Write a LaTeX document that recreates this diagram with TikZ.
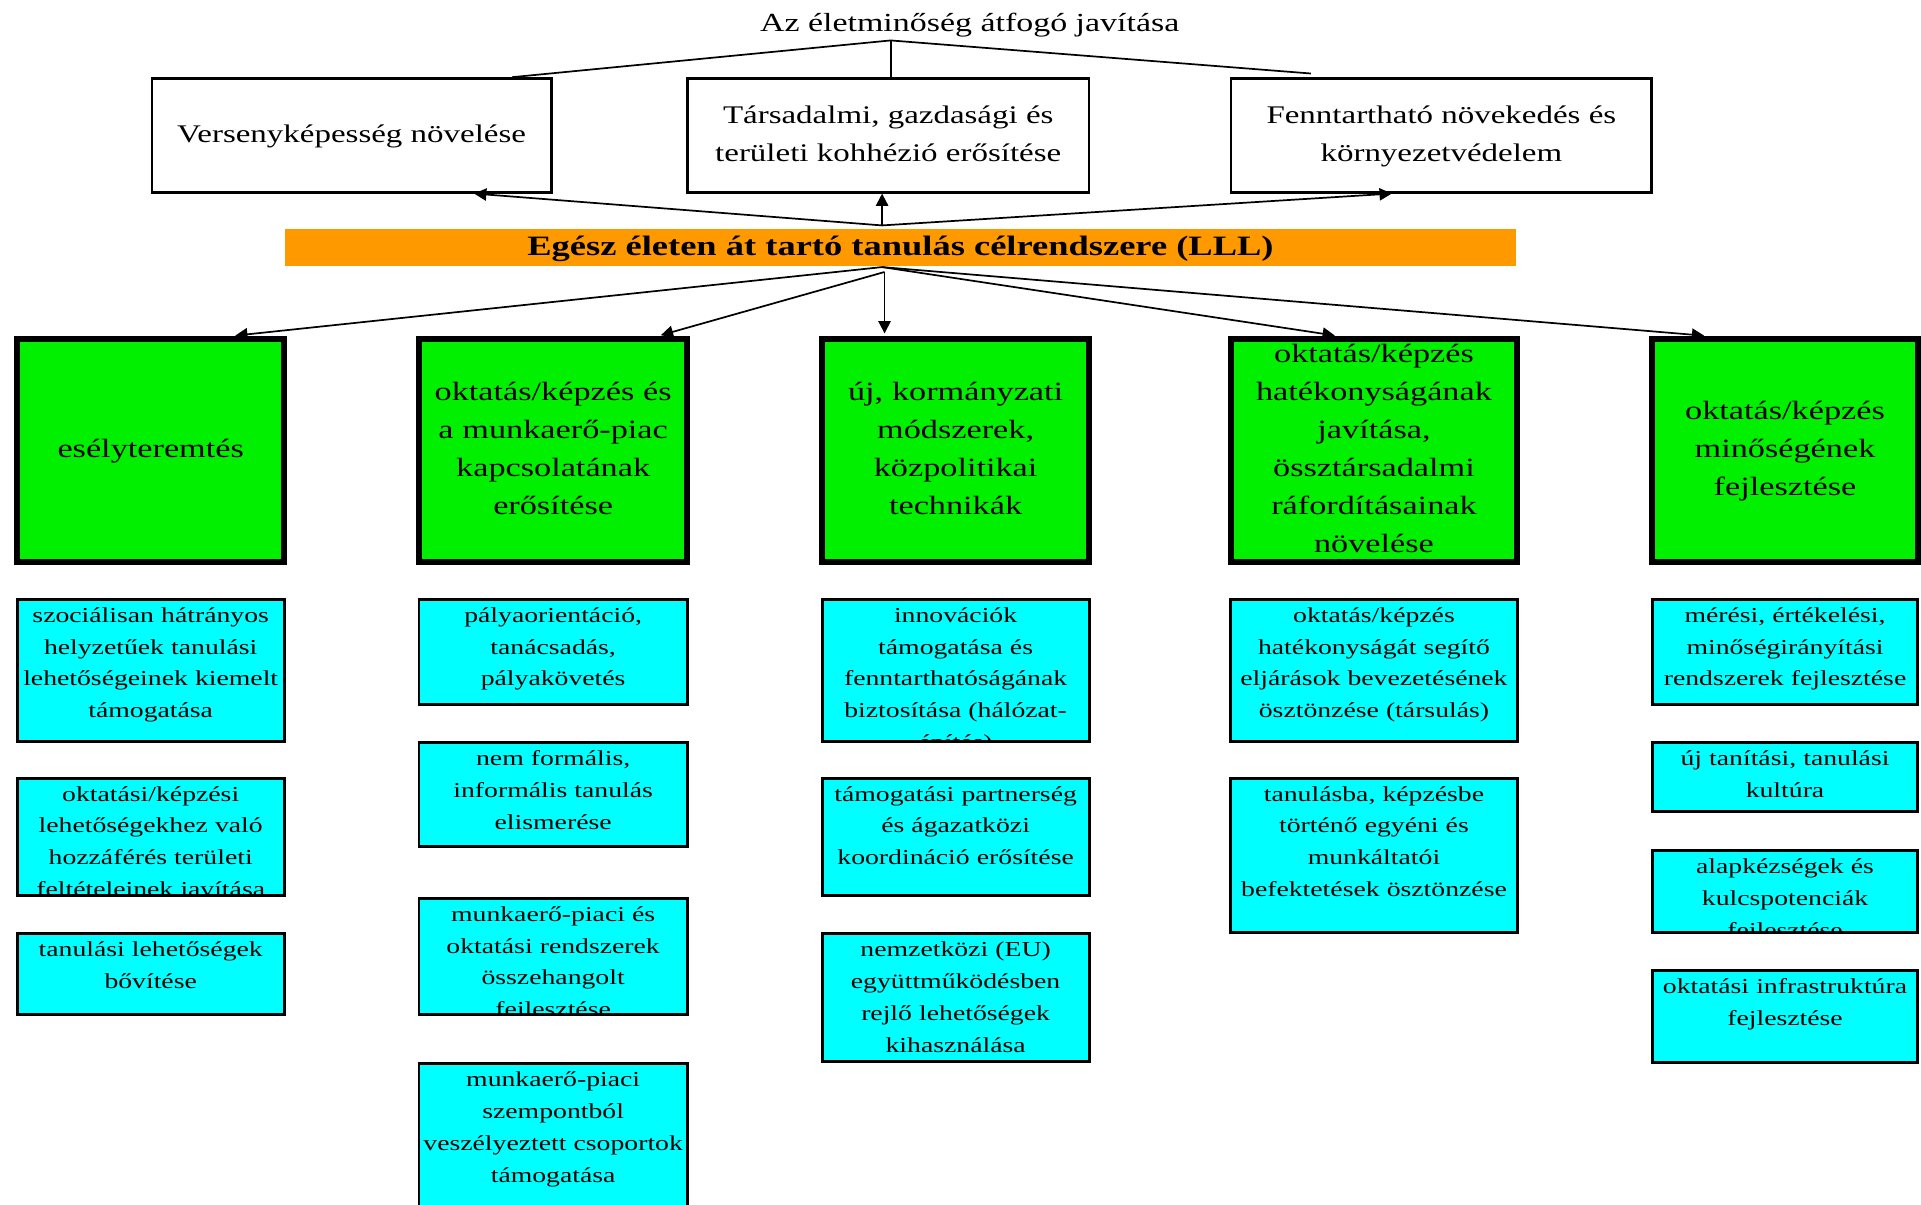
\documentclass[tikz,border=0pt]{standalone}
\usepackage{fontspec}
\setmainfont{Liberation Serif}[FakeStretch=1.3]
\usepackage{tikz}
\usetikzlibrary{arrows.meta, positioning, calc}

\definecolor{lllorange}{HTML}{FF9900}
\definecolor{goalgreen}{HTML}{00F000}
\definecolor{actcyan}{HTML}{00FFFF}

\tikzset{
  aimbox/.style={draw, line width=2pt, fill=white, minimum width=#1, minimum height=93pt,
    inner sep=0pt, align=center, font=\fontsize{20.7}{31}\selectfont},
  goalbox/.style={draw, line width=4.7pt, fill=goalgreen, minimum width=#1, minimum height=182pt, inner sep=0pt},
  goaltext/.style={draw=none, fill=none, anchor=center, inner sep=0pt, minimum width=0pt, minimum height=0pt,
    align=center, text width=260pt, font=\fontsize{21.5}{31}\selectfont},
  actbox/.style={draw, line width=2.4pt, fill=actcyan, minimum width=#1, inner sep=0pt},
  acttext/.style={draw=none, fill=none, anchor=north, inner sep=0pt, minimum width=0pt, minimum height=0pt,
    align=center, text width=250pt, font=\fontsize{17.4}{26}\selectfont},
  link/.style={line width=1.4pt},
  arr/.style={line width=1.4pt, -{Triangle[length=10pt, width=10pt]}},
}

% green goal box, its text is clipped to the box
\newcommand{\goal}[4]{%
  \node[goalbox=#3, path picture={\node[goaltext] (#1t) at (path picture bounding box.center)
      {\rule{0pt}{17pt}#4\rule[-4.5pt]{0pt}{4.5pt}};}] (#1) at (#2,367.5) {};}
% cyan action box: name, x, top, width, height, text
\newcommand{\act}[6]{%
  \node[actbox=#4, minimum height=#5, anchor=north, path picture={\node[acttext] (#1t)
      at ([yshift=-4.5pt]path picture bounding box.north) {\rule{0pt}{13pt}#6};}] (#1) at (#2,#3) {};}

\begin{document}
\begin{tikzpicture}[x=1pt, y=-1pt]
        \useasboundingbox (0,0) rectangle (1568,982.8);

        % overall aim and the three goals
        \node[anchor=base, font=\fontsize{21.3}{26}\selectfont] (cim) at (791.5,26) {Az életminőség átfogó javítása};
        \node[aimbox=326pt] (verseny) at (287,110.5) {\rule{0pt}{16pt}Versenyképesség növelése\rule[-4pt]{0pt}{4pt}};
        \node[aimbox=328pt] (tarsadalmi) at (725,110.5) {\rule{0pt}{16pt}Társadalmi, gazdasági és\\területi kohhézió erősítése\rule[-4pt]{0pt}{4pt}};
        \node[aimbox=343pt] (fenntart) at (1176.5,110.5) {\rule{0pt}{16pt}Fenntartható növekedés és\\környezetvédelem\rule[-4pt]{0pt}{4pt}};

        % LLL bar
        \node[fill=lllorange, minimum width=1004.5pt, minimum height=30pt, inner sep=0pt,
              font=\fontsize{22.9}{26}\selectfont\bfseries] (lll) at (735,202)
              {\rule{0pt}{17.5pt}Egész életen át tartó tanulás célrendszere (LLL)\rule[-3pt]{0pt}{3pt}};

        % green goal boxes
        \goal{g1}{123}{218pt}{esélyteremtés}
        \goal{g2}{451.5}{219pt}{oktatás/képzés és\\a munkaerő-piac\\kapcsolatának\\erősítése}
        \goal{g3}{780}{218pt}{új, kormányzati\\módszerek,\\közpolitikai\\technikák}
        \goal{g4}{1121.5}{234pt}{oktatás/képzés\\hatékonyságának\\javítása,\\össztársadalmi\\ráfordításainak\\növelése}
        \goal{g5}{1457}{217pt}{oktatás/képzés\\minőségének\\fejlesztése}

        % cyan action boxes
        \act{c1a}{123}{488}{218pt}{116pt}{szociálisan hátrányos\\helyzetűek tanulási\\lehetőségeinek kiemelt\\támogatása}
        \act{c1b}{123}{634}{218pt}{96pt}{oktatási/képzési\\lehetőségekhez való\\hozzáférés területi\\feltételeinek javítása}
        \act{c1c}{123}{761}{218pt}{66pt}{tanulási lehetőségek\\bővítése}
        \act{c2a}{451.5}{488}{219pt}{86pt}{pályaorientáció,\\tanácsadás,\\pályakövetés}
        \act{c2b}{451.5}{605}{219pt}{85pt}{nem formális,\\informális tanulás\\elismerése}
        \act{c2c}{451.5}{732}{219pt}{95pt}{munkaerő-piaci és\\oktatási rendszerek\\összehangolt\\fejlesztése}
        \act{c2d}{451.5}{867}{219pt}{140pt}{munkaerő-piaci\\szempontból\\veszélyeztett csoportok\\támogatása}
        \act{c3a}{780}{488}{218pt}{116pt}{innovációk\\támogatása és\\fenntarthatóságának\\biztosítása (hálózat-\\építés)}
        \act{c3b}{780}{634}{218pt}{96pt}{támogatási partnerség\\és ágazatközi\\koordináció erősítése}
        \act{c3c}{780}{761}{218pt}{104pt}{nemzetközi (EU)\\együttműködésben\\rejlő lehetőségek\\kihasználása}
        \act{c4a}{1121.5}{488}{234pt}{116pt}{oktatás/képzés\\hatékonyságát segítő\\eljárások bevezetésének\\ösztönzése (társulás)}
        \act{c4b}{1121.5}{634}{234pt}{126pt}{tanulásba, képzésbe\\történő egyéni és\\munkáltatói\\befektetések ösztönzése}
        \act{c5a}{1457}{488}{217pt}{86pt}{mérési, értékelési,\\minőségirányítási\\rendszerek fejlesztése}
        \act{c5b}{1457}{605}{217pt}{56pt}{új tanítási, tanulási\\kultúra}
        \act{c5c}{1457}{693}{217pt}{67pt}{alapkézségek és\\kulcspotenciák\\fejlesztése}
        \act{c5d}{1457}{791}{217pt}{75pt}{oktatási infrastruktúra\\fejlesztése}

        % connectors
        \coordinate (split) at (727,33);
        \coordinate (lllup) at (720,184);
        \coordinate (llldown) at (720,218);
        \coordinate (llldown2) at (722,222);

        \draw[link] (split) -- ([xshift=131pt]verseny.north);
        \draw[link] (split) -- (split |- tarsadalmi.north);
        \draw[link] (split) -- ([xshift=-106.5pt, yshift=3pt]fenntart.north);

        \draw[arr] (lllup) -- ([xshift=100pt]verseny.south);
        \draw[arr] (lllup) -- (lllup |- tarsadalmi.south);
        \draw[arr] (lllup) -- ([xshift=-40.5pt]fenntart.south);

        \draw[arr, shorten >=2pt] (llldown) -- ([xshift=67pt]g1.north);
        \draw[arr, shorten >=2pt] (llldown2) -- ([xshift=86pt]g2.north);
        \draw[arr, shorten >=2pt] (llldown2) -- (llldown2 |- g3.north);
        \draw[arr, shorten >=2pt] (llldown) -- ([xshift=-30pt]g4.north);
        \draw[arr, shorten >=2pt] (llldown) -- ([xshift=-64pt]g5.north);
\end{tikzpicture}
\end{document}
